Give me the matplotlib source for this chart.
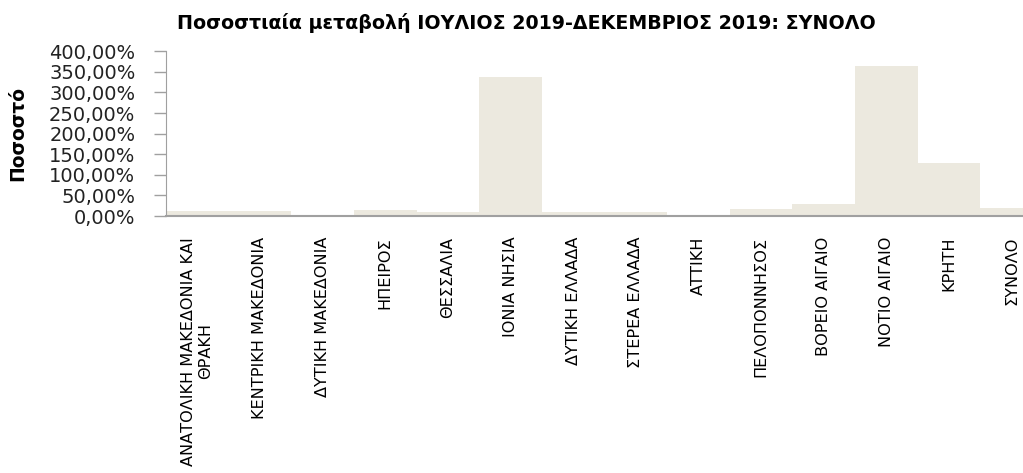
import matplotlib
matplotlib.use("Agg")
import matplotlib.pyplot as plt
from matplotlib.ticker import FuncFormatter

regions = ["ΑΝΑΤΟΛΙΚΗ ΜΑΚΕΔΟΝΙΑ ΚΑΙ\nΘΡΑΚΗ", "ΚΕΝΤΡΙΚΗ ΜΑΚΕΔΟΝΙΑ", "ΔΥΤΙΚΗ ΜΑΚΕΔΟΝΙΑ",
           "ΗΠΕΙΡΟΣ", "ΘΕΣΣΑΛΙΑ", "ΙΟΝΙΑ ΝΗΣΙΑ", "ΔΥΤΙΚΗ ΕΛΛΑΔΑ", "ΣΤΕΡΕΑ ΕΛΛΑΔΑ",
           "ΑΤΤΙΚΗ", "ΠΕΛΟΠΟΝΝΗΣΟΣ", "ΒΟΡΕΙΟ ΑΙΓΑΙΟ", "ΝΟΤΙΟ ΑΙΓΑΙΟ", "ΚΡΗΤΗ", "ΣΥΝΟΛΟ"]
change_pct = [12, 12, 0.5, 14.5, 9, 338, 9, 9, 0.5, 17, 29, 364, 129, 20]
y_ticks = [0, 50, 100, 150, 200, 250, 300, 350, 400]

title = "Ποσοστιαία μεταβολή ΙΟΥΛΙΟΣ 2019-ΔΕΚΕΜΒΡΙΟΣ 2019: ΣΥΝΟΛΟ"

plt.rcParams['font.family'] = ['DejaVu Sans']

fig = plt.figure(figsize=(10.23, 4.73), dpi=100)
# axes runs past the right edge, like the original which is cut off there
ax = fig.add_axes([166 / 1023, 1 - 216 / 473, 877 / 1023, 164.7 / 473])

x = list(range(len(regions)))
ax.bar(x, change_pct, width=1.0, color="#ECE9DF", edgecolor="none")

ax.set_xlim(-0.5, len(regions) - 0.5)
ax.set_ylim(0, 400)
ax.set_yticks(y_ticks)
ax.yaxis.set_major_formatter(FuncFormatter(lambda v, p: ("%.2f%%" % v).replace(".", ",")))
ax.tick_params(axis="y", labelsize=14, length=9, width=1, color="#A0A0A0", pad=13, labelcolor="#222222")

ax.set_xticks(x)
ax.set_xticklabels(regions, rotation=90, ha="center", va="top", multialignment="center", fontsize=11.6)
ax.tick_params(axis="x", length=0, pad=15)

for s in ["top", "right"]:
    ax.spines[s].set_visible(False)
ax.spines["left"].set_color("#A0A0A0")
ax.spines["bottom"].set_color("#A0A0A0")
ax.spines["bottom"].set_linewidth(1.5)

fig.text(18 / 1023, 1 - 133 / 473, "Ποσοστό", rotation=90, fontsize=13.5, fontweight="bold",
         ha="center", va="center")
fig.text(177 / 1023, 1 - 23 / 473, title, fontsize=13.7, fontweight="bold", ha="left", va="center")

fig.savefig("out.png", dpi=100)
